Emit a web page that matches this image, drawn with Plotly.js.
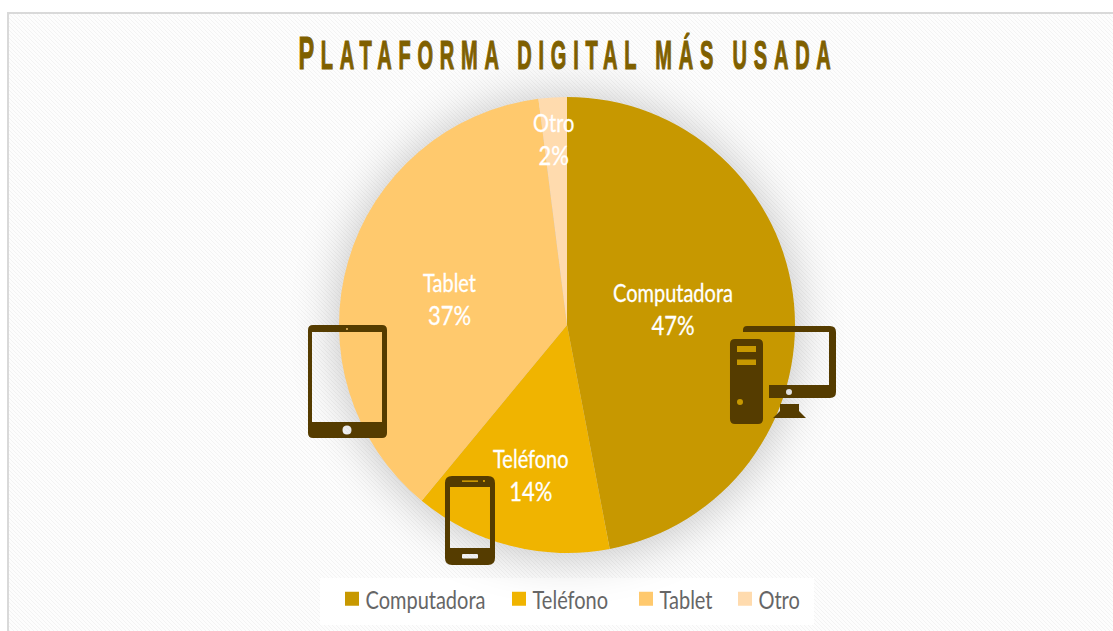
<!DOCTYPE html>
<html>
<head>
<meta charset="utf-8">
<script src="https://cdn.plot.ly/plotly-3.0.1.min.js"></script>
<style>
  html, body { margin: 0; padding: 0; background: #fff; overflow: hidden; }
  #frame {
    position: absolute; left: 7px; top: 12px; width: 1106px; height: 619px;
    border-left: 2px solid #d9d9d9; border-top: 2px solid #d9d9d9; box-sizing: border-box;
    background-image: url("data:image/svg+xml,%3Csvg xmlns='http://www.w3.org/2000/svg' width='4' height='4' shape-rendering='crispEdges'%3E%3Crect width='4' height='4' fill='%23fdfdfd'/%3E%3Cpath fill='%23f3f3f3' d='M0 0h1v1H0zM1 1h1v1H1zM2 2h1v1H2zM3 3h1v1H3z'/%3E%3C/svg%3E");
  }
  #chart { position: absolute; left: 0; top: 0; width: 1113px; height: 631px; }
  .pielayer { filter: drop-shadow(0 2px 24px rgba(0,0,0,.24)); }
  .gtitle {
    transform-box: fill-box; transform-origin: center; transform: scaleX(.5);
    letter-spacing: 13.6px;
    stroke: #7F6000; stroke-width: 1.2px;
  }
  .annotation-text, .legendtext { transform-box: fill-box; }
  .annotation-text { transform-origin: center; transform: scaleX(.8); stroke: #ffffff; stroke-width: .3px; }
  .legendtext { transform-origin: left center; transform: translateX(-6.5px) scaleX(.8); }
</style>
</head>
<body>
<div id="frame"></div>
<div id="chart"></div>
<script>
// Plataforma digital más usada: share of respondents per device
const categories = ['Computadora', 'Teléfono', 'Tablet', 'Otro'];
const shares = [47, 14, 37, 2];
const sliceColors = ['#C79800', '#F0B400', '#FFC96D', '#FFDBAE'];
const labelCentersPx = [[673, 309], [531, 475], [450, 299], [554, 139]];
const legendSwatchCentersPx = [352, 519, 646, 745];

const W = 1113, H = 631;
const X = px => (px / W).toFixed(5);
const Y = py => (1 - py / H).toFixed(5);
const pt = (x, y) => X(x) + ',' + Y(y);

// Rounded rectangle in page pixels, expressed in paper coordinates
function rrect(x0, y0, x1, y1, r) {
  return 'M' + pt(x0 + r, y0) + 'L' + pt(x1 - r, y0) + 'Q' + pt(x1, y0) + ' ' + pt(x1, y0 + r) +
    'L' + pt(x1, y1 - r) + 'Q' + pt(x1, y1) + ' ' + pt(x1 - r, y1) +
    'L' + pt(x0 + r, y1) + 'Q' + pt(x0, y1) + ' ' + pt(x0, y1 - r) +
    'L' + pt(x0, y0 + r) + 'Q' + pt(x0, y0) + ' ' + pt(x0 + r, y0) + 'Z';
}
const rect = (x0, y0, x1, y1) => rrect(x0, y0, x1, y1, 0.01);
const dot = (cx, cy, r) => rrect(cx - r, cy - r, cx + r, cy + r, r);
const poly = pts => 'M' + pts.map(p => pt(p[0], p[1])).join('L') + 'Z';

const iconColor = '#553C00';
const iconPaths = [
  // tablet
  rrect(308, 325, 387, 438, 5) + rect(312, 332, 382, 422) + dot(347, 430, 4.5) + dot(347, 329, 0.9),
  // phone
  rrect(445, 476, 495, 565, 7) + rect(450, 487, 490, 548) + rrect(462, 554, 478, 558.5, 1) +
    rect(462, 480.4, 478, 481.8) + dot(484, 481, 1),
  // tower
  rrect(730, 339, 763, 424, 5) + rect(737, 346, 756, 352) + rect(737, 359.5, 756, 365) + dot(740, 402, 3),
  // monitor
  'M' + pt(747, 326) + 'L' + pt(830, 326) + 'Q' + pt(836, 326) + ' ' + pt(836, 332) +
    'L' + pt(836, 392) + 'Q' + pt(836, 398) + ' ' + pt(830, 398) + 'L' + pt(769, 398) +
    'L' + pt(769, 385) + 'L' + pt(829, 385) + 'L' + pt(829, 332) + 'L' + pt(743, 332) +
    'L' + pt(743, 330) + 'Q' + pt(743, 326) + ' ' + pt(747, 326) + 'Z' + dot(789, 392, 3),
  // monitor stand
  poly([[780, 404], [799, 404], [799, 411], [806, 418], [773, 418], [780, 411]])
];

const whiteBox = {
  type: 'rect', xref: 'paper', yref: 'paper', layer: 'below',
  x0: X(320), x1: X(814), y0: Y(625), y1: Y(578),
  fillcolor: '#ffffff', line: { width: 0 }
};
const iconShapes = iconPaths.map(d => ({
  type: 'path', path: d, xref: 'paper', yref: 'paper',
  fillcolor: iconColor, fillrule: 'evenodd', line: { width: 0 }
}));

const sliceLabels = categories.map((c, i) => ({
  text: c + '<br><span style="font-size:27.5px">' + shares[i] + '%</span>',
  xref: 'paper', yref: 'paper',
  x: +X(labelCentersPx[i][0]), y: +Y(labelCentersPx[i][1]),
  xanchor: 'center', yanchor: 'middle', showarrow: false,
  font: { family: 'Lato, sans-serif', size: 25, color: '#ffffff' }
}));

const trace = {
  type: 'pie', labels: categories, values: shares, sort: false, direction: 'clockwise', rotation: 0,
  marker: { colors: sliceColors, line: { width: 0 } },
  textinfo: 'none', hoverinfo: 'label+percent',
  domain: { x: [339 / W, 795 / W], y: [1 - 553 / H, 1 - 97 / H] }
};

const layout = {
  width: W, height: H, margin: { l: 0, r: 0, t: 0, b: 0 },
  paper_bgcolor: 'rgba(0,0,0,0)',
  title: {
    text: '<span style="font-size:47px">P</span>LATAFORMA DIGITAL MÁS USADA',
    x: 568 / W, xanchor: 'center', y: 1 - 69 / H, yanchor: 'bottom',
    font: { family: '"Liberation Sans Narrow", sans-serif', size: 40, weight: 700, color: '#7F6000' }
  },
  showlegend: true,
  legend: {
    orientation: 'h', x: 338 / W, xanchor: 'left', y: 1 - 599 / H, yanchor: 'middle',
    bgcolor: 'rgba(0,0,0,0)', traceorder: 'normal',
    font: { family: 'Lato, sans-serif', size: 25, color: '#666666' }
  },
  shapes: [whiteBox].concat(iconShapes),
  annotations: sliceLabels
};

Plotly.newPlot('chart', [trace], layout, { displayModeBar: false, responsive: false }).then(() => {
  // Spread the legend entries to their own column positions and enlarge the swatches
  document.querySelectorAll('.legend .traces').forEach((item, i) => {
    const swatch = item.querySelector('.legendpoints path');
    swatch.setAttribute('d', 'M7,7H-7V-7H7Z');
    const box = swatch.getBoundingClientRect();
    const m = /translate\(\s*([-\d.]+)[ ,]+([-\d.]+)/.exec(item.getAttribute('transform'));
    const dx = legendSwatchCentersPx[i] - (box.left + box.width / 2);
    item.setAttribute('transform', 'translate(' + (parseFloat(m[1]) + dx) + ',' + m[2] + ')');
  });
});
</script>
</body>
</html>
